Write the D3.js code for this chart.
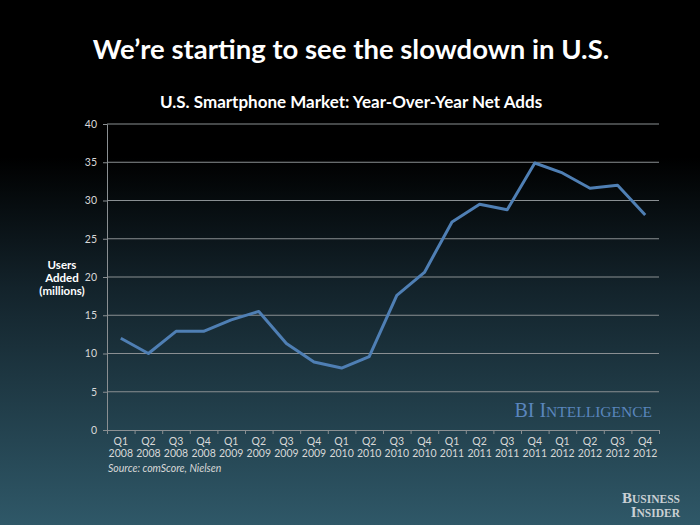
<!DOCTYPE html>
<html><head><meta charset="utf-8">
<script src="https://cdn.jsdelivr.net/npm/d3@7"></script>
<style>body{margin:0;background:#000}svg{display:block}</style>
</head><body>
<script>
const quarters = ["Q1","Q2","Q3","Q4","Q1","Q2","Q3","Q4","Q1","Q2","Q3","Q4","Q1","Q2","Q3","Q4","Q1","Q2","Q3","Q4"];
const years = ["2008","2008","2008","2008","2009","2009","2009","2009","2010","2010","2010","2010","2011","2011","2011","2011","2012","2012","2012","2012"];
const netAdds = [12.0,10.0,12.9,12.9,14.4,15.5,11.3,8.9,8.1,9.6,17.6,20.6,27.2,29.5,28.8,34.9,33.6,31.6,32.0,28.1];
const yTicks = [0,5,10,15,20,25,30,35,40];

const W=700,H=525;
const svg=d3.select("body").append("svg").attr("width",W).attr("height",H);
const defs=svg.append("defs");
const g=defs.append("linearGradient").attr("id","bg").attr("x1",0).attr("y1",0).attr("x2",0).attr("y2",1);
g.append("stop").attr("offset","0%").attr("stop-color","#000");
g.append("stop").attr("offset","30%").attr("stop-color","#000");
g.append("stop").attr("offset","55%").attr("stop-color","#13232b");
g.append("stop").attr("offset","100%").attr("stop-color","#2f5868");
svg.append("rect").attr("width",W).attr("height",H).attr("fill","url(#bg)");

const font="Lato, 'Open Sans', sans-serif";
svg.append("text").attr("x",351).attr("y",59).attr("text-anchor","middle")
  .attr("fill","#fff").attr("font-family",font).attr("font-weight","bold").attr("font-size",27.5)
  .text("We’re starting to see the slowdown in U.S.");
svg.append("text").attr("x",351).attr("y",108).attr("text-anchor","middle")
  .attr("fill","#fff").attr("font-family",font).attr("font-weight","bold").attr("font-size",17)
  .text("U.S. Smartphone Market: Year-Over-Year Net Adds");

const L=107,R=659,T=124,B=430;
const x=d3.scaleBand().domain(d3.range(quarters.length)).range([L,R]);
const y=d3.scaleLinear().domain([0,40]).range([B,T]);

// grid
svg.append("g").selectAll("line").data(yTicks.filter(d=>d>0)).join("line")
  .attr("x1",L).attr("x2",R).attr("y1",d=>y(d)).attr("y2",d=>y(d))
  .attr("stroke","#8a8f92").attr("stroke-width",1.2);

// y axis
const ya=svg.append("g").attr("transform",`translate(${L},0)`)
  .call(d3.axisLeft(y).tickValues(yTicks).tickSize(4).tickPadding(6));
ya.select(".domain").attr("stroke","#8a8f92");
ya.selectAll(".tick line").attr("stroke","#8a8f92");
ya.selectAll("text").attr("fill","#d8d8d8").attr("font-family",font).attr("font-size",10.5);

// x axis
const xa=svg.append("g").attr("transform",`translate(0,${B})`)
  .call(d3.axisBottom(d3.scaleLinear().domain([0,20]).range([L,R])).ticks(20).tickSize(4).tickFormat(""));
xa.select(".domain").attr("stroke","#8a8f92");
xa.selectAll(".tick line").attr("stroke","#8a8f92");
const xl=svg.append("g").selectAll("text").data(quarters).join("text")
  .attr("x",(d,i)=>x(i)+x.bandwidth()/2).attr("y",445)
  .attr("text-anchor","middle").attr("fill","#d8d8d8").attr("font-family",font).attr("font-size",10.5);
xl.append("tspan").attr("x",(d,i)=>x(i)+x.bandwidth()/2).text(d=>d);
xl.append("tspan").attr("x",(d,i)=>x(i)+x.bandwidth()/2).attr("dy",12).text((d,i)=>years[i]);

// y label
const yl=svg.append("text").attr("x",62).attr("y",269).attr("text-anchor","middle")
  .attr("fill","#fff").attr("font-family",font).attr("font-weight","bold").attr("font-size",11.5);
["Users","Added","(millions)"].forEach((t,i)=>yl.append("tspan").attr("x",62).attr("dy",i?13:0).text(t));

// line
svg.append("path").datum(netAdds)
  .attr("d",d3.line().x((d,i)=>x(i)+x.bandwidth()/2).y(d=>y(d)))
  .attr("fill","none").attr("stroke","#4f7fb4").attr("stroke-width",3).attr("stroke-linejoin","round");

// BI Intelligence
const bi=svg.append("text").attr("x",652).attr("y",417).attr("text-anchor","end")
  .attr("fill","#5a86bd").attr("font-family","'Liberation Serif', serif").attr("font-size",20);
bi.append("tspan").text("BI I");
bi.append("tspan").attr("font-size",15.5).text("NTELLIGENCE");

// source
svg.append("text").attr("x",108).attr("y",472).attr("fill","#d8d8d8")
  .attr("font-family",font).attr("font-style","italic").attr("font-size",10.5)
  .text("Source: comScore, Nielsen");

// Business Insider logo
const bl=svg.append("g").attr("fill","#c9d0d4").attr("font-family","'Liberation Serif', serif").attr("font-weight","bold");
const b1=bl.append("text").attr("x",680).attr("y",503).attr("text-anchor","end").attr("font-size",15);
b1.append("tspan").text("B");b1.append("tspan").attr("font-size",11.5).text("USINESS");
const b2=bl.append("text").attr("x",680).attr("y",517).attr("text-anchor","end").attr("font-size",15);
b2.append("tspan").text("I");b2.append("tspan").attr("font-size",11.5).text("NSIDER");
</script>
</body></html>
